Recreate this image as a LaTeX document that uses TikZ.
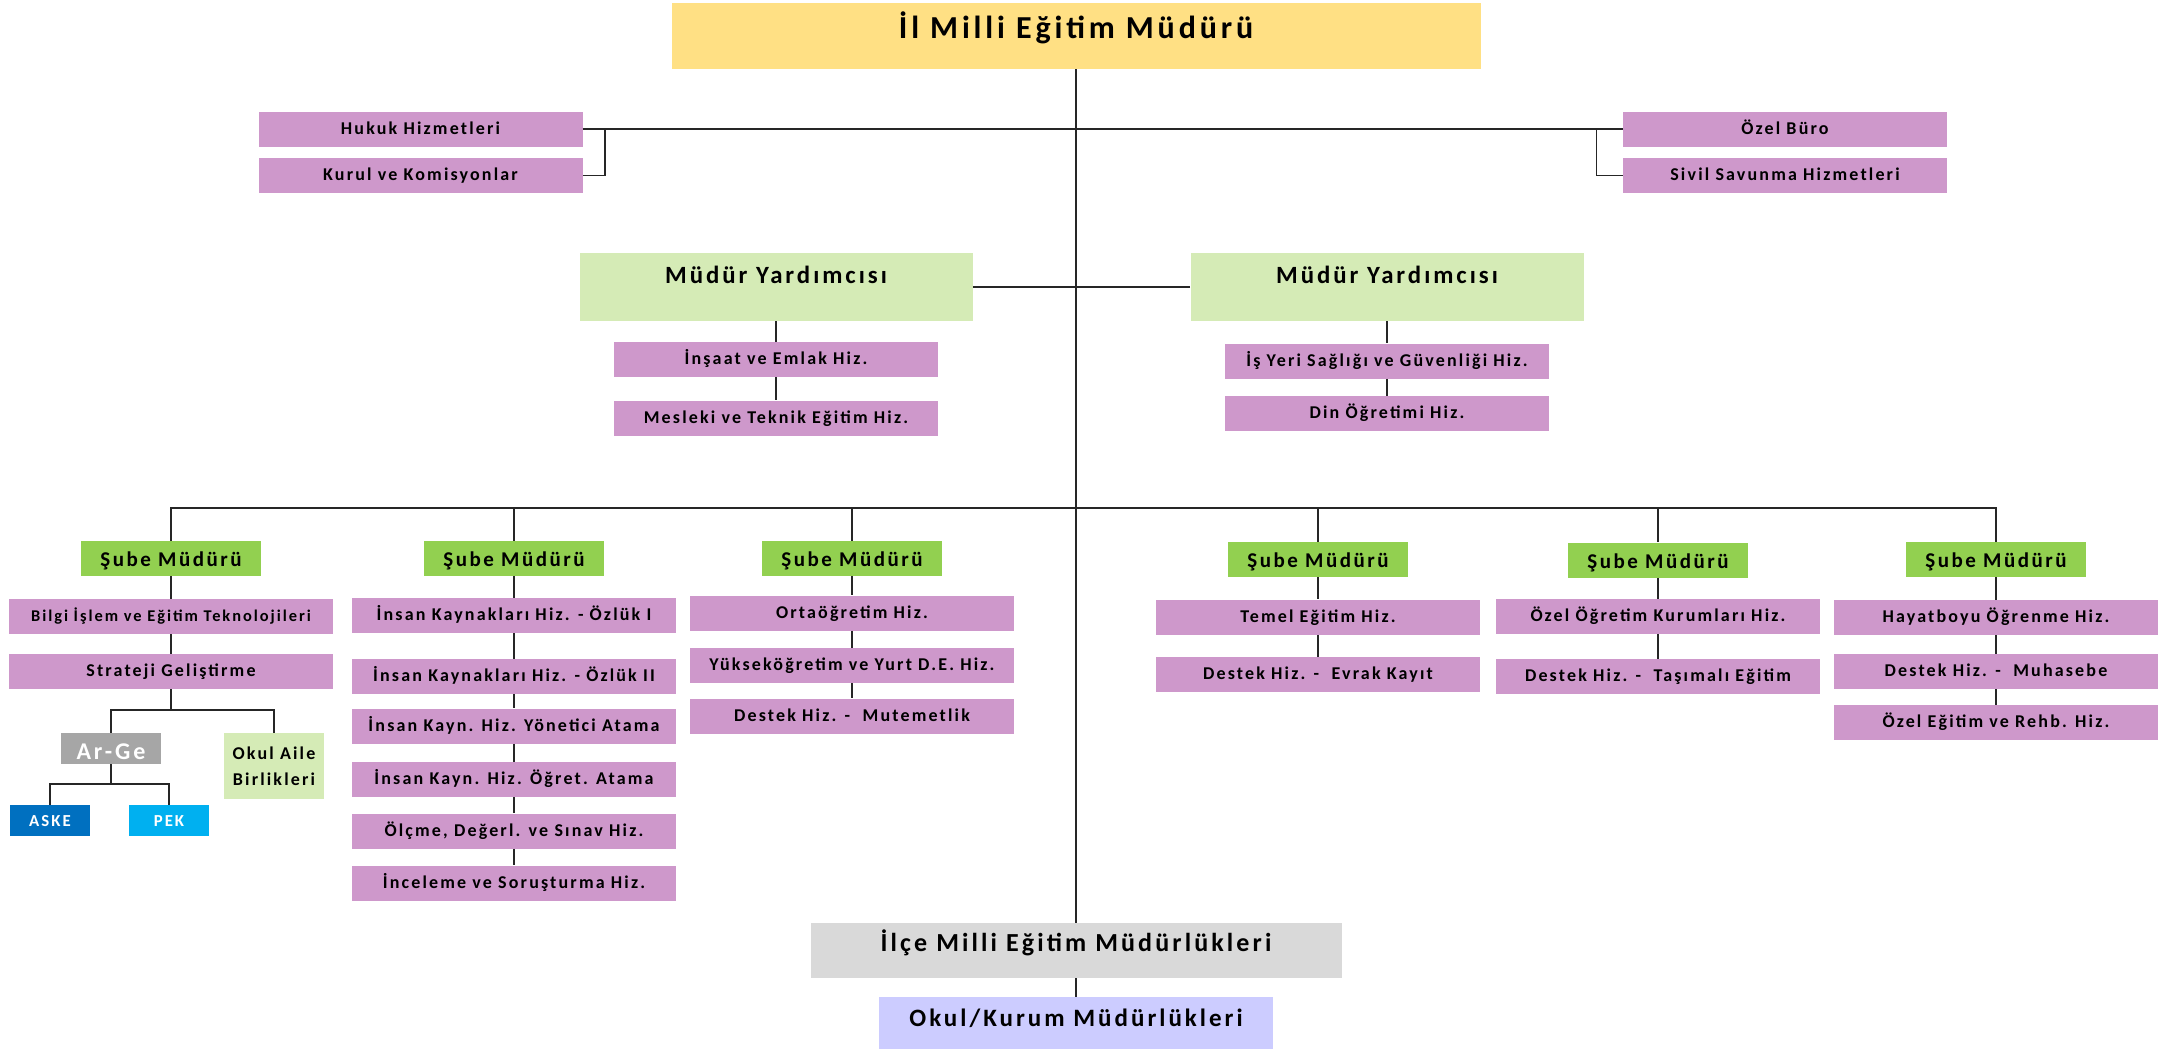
\documentclass[tikz,border=0pt]{standalone}
\usepackage{fontspec}
\setmainfont{Carlito}[LetterSpace=12]
\usepackage{tikz}
\usetikzlibrary{positioning}

\definecolor{sari}{RGB}{255,224,132}
\definecolor{mor}{RGB}{206,152,203}
\definecolor{yesil}{RGB}{146,208,80}
\definecolor{acikyesil}{RGB}{213,235,182}
\definecolor{gri}{RGB}{166,166,166}
\definecolor{koyumavi}{RGB}{0,112,192}
\definecolor{acikmavi}{RGB}{0,176,240}
\definecolor{acikgri}{RGB}{217,217,217}
\definecolor{lila}{RGB}{204,204,255}

\tikzset{
  kutu/.style={rectangle, inner sep=0pt, align=center},
  baskan/.style={kutu, fill=sari, minimum width=404.5pt, minimum height=33pt,
    font={\bfseries\fontsize{16}{18}\selectfont}, text height=12pt, text depth=9pt},
  hizmet/.style={kutu, fill=mor, minimum width=162pt, minimum height=17.5pt,
    font={\bfseries\fontsize{9}{11}\selectfont}, text height=7pt, text depth=1.7pt},
  sube/.style={kutu, fill=yesil, minimum width=90pt, minimum height=17.5pt,
    font={\bfseries\fontsize{10.5}{12}\selectfont}, text height=8.5pt, text depth=0.3pt},
  yard/.style={kutu, fill=acikyesil, minimum width=196.5pt, minimum height=34pt,
    font={\bfseries\fontsize{12.4}{14}\selectfont}, text height=9pt, text depth=13pt},
  alt/.style={kutu, minimum height=27.5pt,
    font={\bfseries\fontsize{13}{15}\selectfont}, text height=9pt, text depth=7.8pt},
  kucuk/.style={kutu, minimum width=40pt, minimum height=15.5pt, text=white,
    font={\bfseries\fontsize{8.4}{10}\selectfont}, text height=6.5pt, text depth=0.3pt},
  hat/.style={draw=black!85, line width=0.75pt}
}

\begin{document}
\begin{tikzpicture}[x=0.5pt, y=-0.5pt]
\useasboundingbox (0,0) rectangle (2165,1049);
% ust kademe
\node[baskan](mudur) at (1076,36) {İl Milli Eğitim Müdürü};
\node[hizmet](hukuk) at (420.5,129) {Hukuk Hizmetleri};
\node[hizmet](kurul) at (420.5,175.5) {Kurul ve Komisyonlar};
\node[hizmet](buro) at (1785,129) {Özel Büro};
\node[hizmet](sivil) at (1785,175.5) {Sivil Savunma Hizmetleri};
\node[yard](yardA) at (776,287) {Müdür Yardımcısı};
\node[yard](yardB) at (1387,287) {Müdür Yardımcısı};
\node[hizmet](insaat) at (776,359.5) {İnşaat ve Emlak Hiz.};
\node[hizmet](mesleki) at (776,418) {Mesleki ve Teknik Eğitim Hiz.};
\node[hizmet](isyeri) at (1387,361) {İş Yeri Sağlığı ve Güvenliği Hiz.};
\node[hizmet](din) at (1387,413.5) {Din Öğretimi Hiz.};
% sube mudurleri
\node[sube](subeA) at (171,558.5) {Şube Müdürü};
\node[sube](subeB) at (514,558.5) {Şube Müdürü};
\node[sube](subeC) at (852,558.5) {Şube Müdürü};
\node[sube](subeD) at (1318,559.5) {Şube Müdürü};
\node[sube](subeE) at (1658,560) {Şube Müdürü};
\node[sube](subeF) at (1996,559.5) {Şube Müdürü};
% 1. sube
\node[hizmet, font={\bfseries\fontsize{8.2}{10}\selectfont}](bilgi) at (171,616.5) {Bilgi İşlem ve Eğitim Teknolojileri};
\node[hizmet](strateji) at (171,671.5) {Strateji Geliştirme};
\node[kucuk, fill=gri, minimum width=50pt, font={\bfseries\fontsize{12}{14}\selectfont}, text height=11.5pt, text depth=0.3pt](arge) at (111,748.5) {Ar-Ge};
\node[kutu, fill=acikyesil, minimum width=50pt, minimum height=33pt, font={\bfseries\fontsize{9}{12.8}\selectfont}](okulaile) at (274,766) {Okul Aile\\Birlikleri};
\node[kucuk, fill=koyumavi](aske) at (50,820.5) {ASKE};
\node[kucuk, fill=acikmavi](pek) at (169,820.5) {PEK};
% 2. sube
\node[hizmet](ozlukA) at (514,615.5) {İnsan Kaynakları Hiz. - Özlük I};
\node[hizmet](ozlukB) at (514,676.5) {İnsan Kaynakları Hiz. - Özlük II};
\node[hizmet](yonetici) at (514,726) {İnsan Kayn. Hiz. Yönetici Atama};
\node[hizmet](ogretmen) at (514,779.5) {İnsan Kayn. Hiz. Öğret. Atama};
\node[hizmet](olcme) at (514,831) {Ölçme, Değerl. ve Sınav Hiz.};
\node[hizmet](inceleme) at (514,883) {İnceleme ve Soruşturma Hiz.};
% 3. sube
\node[hizmet](ortaogretim) at (852,613) {Ortaöğretim Hiz.};
\node[hizmet](yuksek) at (852,665.5) {Yükseköğretim ve Yurt D.E. Hiz.};
\node[hizmet](mutemetlik) at (852,716) {Destek Hiz. -\ \ Mutemetlik};
% 4. sube
\node[hizmet](temel) at (1318,617) {Temel Eğitim Hiz.};
\node[hizmet](evrak) at (1318,674.5) {Destek Hiz. -\ \ Evrak Kayıt};
% 5. sube
\node[hizmet](ozelogretim) at (1658,616.5) {Özel Öğretim Kurumları Hiz.};
\node[hizmet](tasimali) at (1658,676.5) {Destek Hiz. -\ \ Taşımalı Eğitim};
% 6. sube
\node[hizmet](hayatboyu) at (1996,617.5) {Hayatboyu Öğrenme Hiz.};
\node[hizmet](muhasebe) at (1996,671.5) {Destek Hiz. -\ \ Muhasebe};
\node[hizmet](ozelegitim) at (1996,722.5) {Özel Eğitim ve Rehb. Hiz.};
% ilce
\node[alt, fill=acikgri, minimum width=265.5pt](ilce) at (1076,950.5) {İlçe Milli Eğitim Müdürlükleri};
\node[alt, fill=lila, minimum width=197pt, minimum height=26pt, font={\bfseries\fontsize{12.5}{14}\selectfont}, text depth=5.3pt](okul) at (1076,1023) {Okul/Kurum Müdürlükleri};
\coordinate(bus) at (1076,508);
\coordinate(kolA) at (171,710);
\coordinate(kolB) at (111,784);
%
\draw[hat](mudur.south) -- (ilce.north);
\draw[hat](hukuk.east) -- (buro.west);
\draw[hat](hukuk.east) -- ++(22,0) |- (kurul.east);
\draw[hat](buro.west) -- ++(-26,0) |- (sivil.west);
\draw[hat](yardA.east) -- (yardA.east -| mudur.south);
\draw[hat](yardB.west) -- (yardB.west -| mudur.south);
\draw[hat](yardA) -- (insaat) -- (mesleki);
\draw[hat](yardB) -- (isyeri) -- (din);
\draw[hat](subeA.north) |- (bus) -| (subeF.north);
\draw[hat](subeB.north) -- (subeB.north |- bus);
\draw[hat](subeC.north) -- (subeC.north |- bus);
\draw[hat](subeD.north) -- (subeD.north |- bus);
\draw[hat](subeE.north) -- (subeE.north |- bus);
\draw[hat](subeA) -- (bilgi) -- (strateji);
\draw[hat](strateji.south) -- (kolA);
\draw[hat](arge.north) |- (kolA) -| (okulaile.north);
\draw[hat](arge.south) -- (kolB);
\draw[hat](aske.north) |- (kolB) -| (pek.north);
\draw[hat](subeB) -- (ozlukA) -- (ozlukB) -- (yonetici) -- (ogretmen) -- (olcme) -- (inceleme);
\draw[hat](subeC) -- (ortaogretim) -- (yuksek) -- (mutemetlik);
\draw[hat](subeD) -- (temel) -- (evrak);
\draw[hat](subeE) -- (ozelogretim) -- (tasimali);
\draw[hat](subeF) -- (hayatboyu) -- (muhasebe) -- (ozelegitim);
\draw[hat](ilce) -- (okul);
\end{tikzpicture}
\end{document}
